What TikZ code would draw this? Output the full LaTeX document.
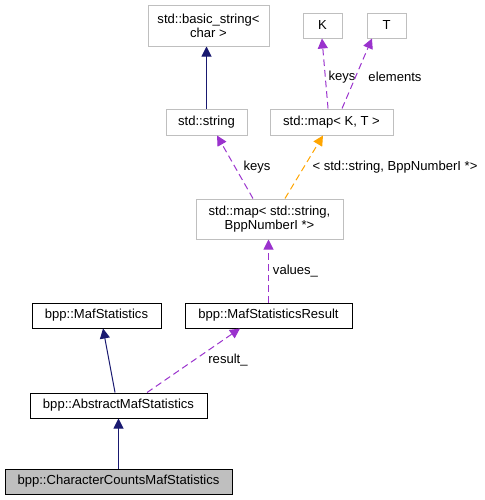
\documentclass[tikz,border=0pt]{standalone}
\usepackage{fontspec}
\setmainfont{Liberation Sans}
\usepackage{tikz}
\usetikzlibrary{arrows.meta,calc,positioning}
\definecolor{azulnoche}{RGB}{25,25,112}
\definecolor{orquidea}{RGB}{154,50,205}
\definecolor{naranja}{RGB}{255,165,0}
\definecolor{grisclaro}{RGB}{191,191,191}
\tikzset{
  clase/.style={
    draw=black,
    fill=white,
    line width=0.75pt,
    align=center,
    inner sep=0pt,
    minimum height=18.75pt,
    font=\fontsize{9.8}{10.5}\selectfont
  },
  plantilla/.style={
    clase,
    draw=grisclaro
  },
  actual/.style={
    clase,
    fill=grisclaro
  },
  etiqueta/.style={
    inner sep=0pt,
    font=\fontsize{9.8}{10.5}\selectfont
  },
  herencia/.style={
    -{Triangle[length=7.5pt,width=7.5pt]},
    line width=0.75pt,
    azulnoche
  },
  uso/.style={
    -{Triangle[length=7.5pt,width=7.5pt]},
    line width=0.75pt,
    dash pattern=on 5pt off 3pt,
    orquidea
  },
  tmpl/.style={
    uso,
    naranja
  }
}
\begin{document}
\begin{tikzpicture}[x=0.75pt,y=-0.75pt]
\useasboundingbox (0,0) rectangle (485,500);
\node[plantilla,minimum width=90.75pt,minimum height=30.75pt] (bstr) at (208.5,25.5) {std::basic\_string\textless\\char \textgreater};
\node[plantilla,minimum width=29.25pt] (k) at (322.5,25.5) {K};
\node[plantilla,minimum width=29.25pt] (t) at (386.5,25.5) {T};
\node[plantilla,minimum width=60.75pt,minimum height=19.5pt] (str) at (206.5,122) {std::string};
\node[plantilla,minimum width=92.25pt,minimum height=19.5pt] (mapkt) at (331.5,122) {std::map\textless{} K, T \textgreater};
\node[plantilla,minimum width=110.25pt,minimum height=30pt] (strmap) at (269.5,219) {std::map\textless{} std::string,\\BppNumberI *\textgreater};
\node[clase,minimum width=125.25pt] (res) at (268.5,315.5) {bpp::MafStatisticsResult};
\node[clase,minimum width=96.75pt] (maf) at (96.5,315.5) {bpp::MafStatistics};
\node[clase,minimum width=132.75pt] (abs) at (118.5,405.5) {bpp::AbstractMafStatistics};
\node[actual,minimum width=170.25pt] (cc) at (118.5,481.5) {bpp::CharacterCountsMafStatistics};
% etiquetas
\node[etiqueta] (lk) at (342,77) {keys};
\node[etiqueta] (lt) at (395,77) {elements};
\node[etiqueta] (ls) at (257,167) {keys};
\node[etiqueta] (lm) at (395,167) {\textless{} std::string, BppNumberI *\textgreater};
\node[etiqueta] (lv) at (295.5,271) {values\_};
\node[etiqueta] (lr) at (228,360) {result\_};
% flechas
\draw[herencia] (str.north) -- (str.north |- bstr.south);
\draw[uso] ([xshift=-2.6pt]mapkt.north) -- ([xshift=-0.4pt]k.south);
\draw[uso] ([xshift=7.9pt]mapkt.north) -- ([xshift=-10.9pt]t.south);
\draw[uso] ([xshift=-12.4pt]strmap.north) -- ([xshift=7.9pt]str.south);
\draw[tmpl] ([xshift=11.6pt]strmap.north) -- ([xshift=-6.4pt]mapkt.south);
\draw[uso] (res.north) -- (res.north |- strmap.south);
\draw[herencia] ([xshift=-2.6pt]abs.north) -- ([xshift=4.9pt]maf.south);
\draw[uso] ([xshift=21.4pt]abs.north) -- ([xshift=-21.4pt]res.south);
\draw[herencia] (cc.north) -- (abs.south);
\end{tikzpicture}
\end{document}
